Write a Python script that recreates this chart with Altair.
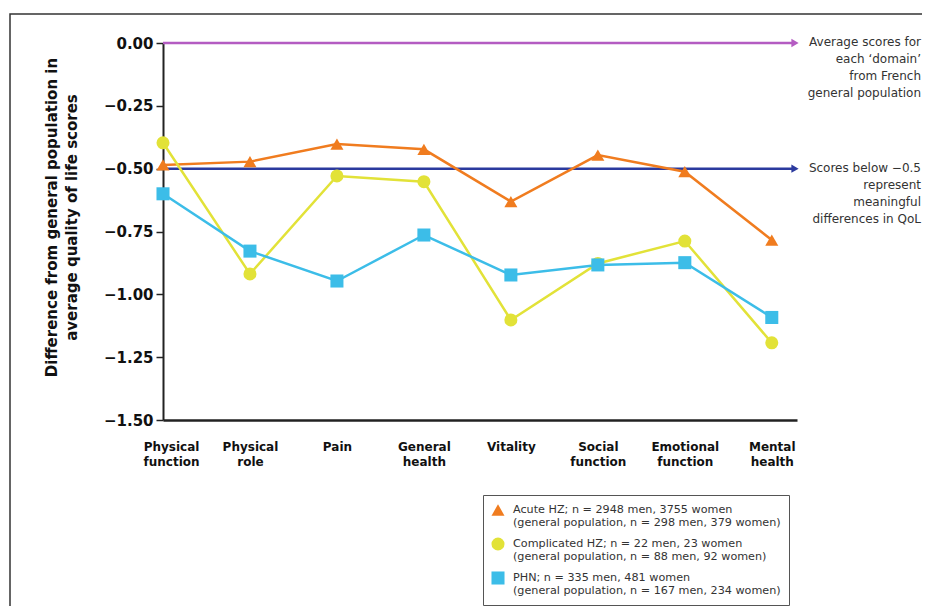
import altair as alt
import pandas as pd

categories = ["Physical|function", "Physical|role", "Pain", "General|health",
              "Vitality", "Social|function", "Emotional|function", "Mental|health"]
acute = [-0.485, -0.472, -0.402, -0.423, -0.631, -0.446, -0.512, -0.784]
complicated = [-0.397, -0.919, -0.529, -0.552, -1.102, -0.877, -0.788, -1.193]
phn = [-0.600, -0.828, -0.947, -0.764, -0.923, -0.883, -0.874, -1.092]

series_names = ["Acute HZ", "Complicated HZ", "PHN"]
legend_labels = [
    "Acute HZ; n = 2948 men, 3755 women|(general population, n = 298 men, 379 women)",
    "Complicated HZ; n = 22 men, 23 women|(general population, n = 88 men, 92 women)",
    "PHN; n = 335 men, 481 women|(general population, n = 167 men, 234 women)",
]
colors = ["#f07c1f", "#e2e238", "#3cbde8"]
shapes = ["triangle-up", "circle", "square"]

ref_values = [0.0, -0.5]
ref_colors = ["#b45cc2", "#2b3a9e"]
ref_notes = [
    ["Average scores for", "each \u2018domain\u2019", "from French", "general population"],
    ["Scores below \u22120.5", "represent", "meaningful", "differences in QoL"],
]

W, H = 634, 377
FONT = "DejaVu Sans"

rows = []
for name, lab, vals in zip(series_names, legend_labels, [acute, complicated, phn]):
    for i, v in enumerate(vals):
        rows.append({"idx": i, "value": v, "series": lab})
df = pd.DataFrame(rows)

x_enc = alt.X("idx:Q", scale=alt.Scale(domain=[0, 7.29], nice=False, zero=False),
              axis=alt.Axis(values=list(range(8)), ticks=False, grid=False,
                            labelExpr="split(" + str(categories).replace('"', "'") + "[datum.value], '|')",
                            labelFont=FONT, labelFontWeight="bold", labelFontSize=12,
                            labelColor="#111", labelLineHeight=15, labelPadding=26,
                            labelBaseline="middle", labelFlush=False, labelOverlap=False,
                            labelBound=False, labelAlign="center",
                            labelOffset={"condition": {"test": "datum.value == 0", "value": 8}, "value": 0},
                            domainColor="#222", domainWidth=2.5, title=None))
y_enc = alt.Y("value:Q", scale=alt.Scale(domain=[-1.5, 0], nice=False),
              axis=alt.Axis(values=[0, -0.25, -0.5, -0.75, -1.0, -1.25, -1.5], format=".2f",
                            grid=False, tickSize=7, tickColor="#222", tickWidth=1.5,
                            domainColor="#222", domainWidth=2,
                            labelFont=FONT, labelFontWeight="bold", labelFontSize=15,
                            labelColor="#111", labelPadding=3,
                            title=["Difference from general population in",
                                   "average quality of life scores"],
                            titleFont=FONT, titleFontWeight="bold", titleFontSize=15,
                            titleColor="#111", titleLineHeight=20,
                            titleX=-112, titleY=174, titleAngle=-90,
                            titleAlign="center", titleBaseline="middle"))

lines = alt.Chart(df).mark_line(strokeWidth=2.5).encode(
    x=x_enc, y=y_enc,
    stroke=alt.Stroke("series:N", scale=alt.Scale(domain=legend_labels, range=colors), legend=None),
)

points = alt.Chart(df).mark_point(filled=True, size=170, opacity=1).encode(
    x="idx:Q", y="value:Q",
    color=alt.Color("series:N", scale=alt.Scale(domain=legend_labels, range=colors),
                    legend=alt.Legend(orient="none", legendX=320, legendY=452, title=None,
                                      labelExpr="split(datum.label, '|')",
                                      labelFont=FONT, labelFontSize=11.2, labelColor="#333",
                                      labelLimit=0, labelOffset=8,
                                      symbolSize=170, symbolStrokeWidth=0,
                                      rowPadding=8, padding=8,
                                      strokeColor="#555", fillColor="white")),
    shape=alt.Shape("series:N", scale=alt.Scale(domain=legend_labels, range=shapes)),
)

ref_df = pd.DataFrame({"y": ref_values, "c": ref_colors,
                       "note": ref_notes})

ref_lines = alt.Chart(ref_df).mark_rule(strokeWidth=2.5).encode(
    y="y:Q", x=alt.value(0), x2=alt.value(W - 4),
    color=alt.Color("c:N", scale=None),
)
ref_arrows = alt.Chart(ref_df).mark_point(shape="triangle-right", filled=True, size=70, opacity=1).encode(
    y="y:Q", x=alt.value(W - 2),
    color=alt.Color("c:N", scale=None),
)
ref_text = alt.Chart(ref_df).mark_text(align="right", baseline="top", dy=-6, font=FONT,
                                      fontSize=12, color="#333", lineHeight=17).encode(
    y="y:Q", x=alt.value(W + 124), text="note",
)

frame = alt.Chart(pd.DataFrame({"a": [1]})).mark_rect(fill=None, stroke="#333", strokeWidth=1.5).encode(
    x=alt.value(-153), x2=alt.value(1000), y=alt.value(-29), y2=alt.value(900),
)

chart = alt.layer(frame, ref_lines, ref_arrows, ref_text, lines, points).properties(
    width=W, height=H,
    autosize=alt.AutoSizeParams(type="none"),
    padding={"left": 155, "top": 35, "right": 125, "bottom": 186},
    background="white",
).configure_view(stroke=None)

chart.save("out.html", embed_options={"renderer": "svg", "actions": False})
